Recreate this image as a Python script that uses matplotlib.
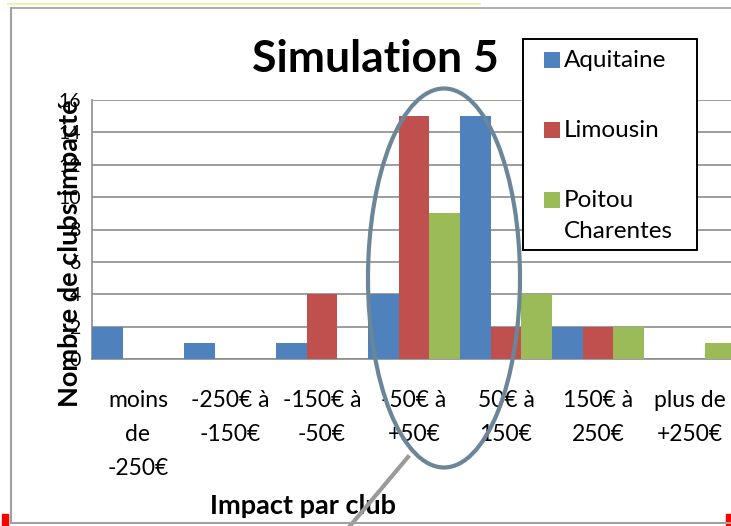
import numpy as np
import matplotlib
matplotlib.use("Agg")
import matplotlib.pyplot as plt
from matplotlib.patches import Ellipse, Rectangle
from matplotlib.lines import Line2D

plt.rcParams['font.family'] = ['Lato', 'DejaVu Sans']

categories = ["moins\nde\n-250€", "-250€ à\n-150€", "-150€ à\n-50€", "-50€ à\n+50€",
              "50€ à\n150€", "150€ à\n250€", "plus de\n+250€"]
series = ["Aquitaine", "Limousin", "Poitou\nCharentes"]
aquitaine = [2, 1, 1, 4, 15, 2, 0]
limousin = [0, 0, 4, 15, 2, 2, 0]
poitou = [0, 0, 0, 9, 4, 2, 1]
colors = ['#4F81BD', '#C0504D', '#9BBB59']

W, H = 731, 526
fig = plt.figure(figsize=(W / 100, H / 100), dpi=100)
fig.patch.set_facecolor('white')

# plot area in pixels: x 92..736, y 100..359
ax = fig.add_axes([92 / W, 1 - 359 / H, 644 / W, 259 / H])
x = np.arange(len(categories))
bw = 1 / 3
for i, (vals, c) in enumerate(zip([aquitaine, limousin, poitou], colors)):
    ax.bar(x + (i - 1) * bw, vals, width=bw, color=c, zorder=3)

ax.set_xlim(-0.5, 6.5)
ax.set_ylim(0, 16)
ax.set_yticks(np.arange(0, 17, 2))
ax.yaxis.grid(True, color='#8c8c8c', linewidth=1.2, zorder=0)
ax.set_xticks(x)
ax.set_xticklabels(categories, fontsize=16.5, linespacing=1.78)
ax.tick_params(axis='x', length=0, pad=22)
ax.tick_params(axis='y', length=0, pad=8, labelsize=14)
for s in ['top', 'right']:
    ax.spines[s].set_visible(False)
for s in ['left', 'bottom']:
    ax.spines[s].set_color('#8c8c8c')
    ax.spines[s].set_linewidth(1.2)

ax.set_ylabel("Nombre de clubs impacté", fontsize=19.5, fontweight='bold')
ax.yaxis.label.set_va('center')
ax.yaxis.set_label_coords((70 - 92) / 644, (359 - 253) / 259)
fig.text(303 / W, 1 - 506 / H, "Impact par club", fontsize=19.5, fontweight='bold',
         ha='center', va='center')
fig.text(375 / W, 1 - 59 / H, "Simulation 5", fontsize=32, fontweight='bold',
         ha='center', va='center')

# overlay decorations in pixel coordinates
ov = fig.add_axes([0, 0, 1, 1], zorder=10)
ov.set_xlim(0, W)
ov.set_ylim(H, 0)
ov.axis('off')
ov.patch.set_alpha(0)

# legend box, drawn by hand so the wrapped label keeps its swatch on the first line
ov.add_patch(Rectangle((523, 39), 174, 211, facecolor='white', edgecolor='black',
                       linewidth=1.4, zorder=4))
for i, (name, c) in enumerate(zip(series, colors)):
    yc = 60 + i * 70
    ov.add_patch(Rectangle((544, yc - 8), 16, 16, facecolor=c, edgecolor='none', zorder=5))
    ov.text(564, yc - 10, name, fontsize=17.5, va='top', ha='left', linespacing=1.6,
            zorder=6)

ov.add_patch(Ellipse((444, 278), 152, 379, fill=False, edgecolor='#6b8699', linewidth=3))
ov.add_line(Line2D([408, 350], [457, 526], color='#9a9a9a', linewidth=3))
ov.add_line(Line2D([11, 11], [8, 523], color='#a0a0a0', linewidth=1.5))
ov.add_line(Line2D([11, 731], [523, 523], color='#a0a0a0', linewidth=1.5))
ov.add_line(Line2D([11, 731], [8, 8], color='#a0a0a0', linewidth=1.2))
ov.add_line(Line2D([8, 480], [4, 4], color='#f3efb0', linewidth=1.5))
ov.add_patch(Rectangle((2, 514), 6, 12, color='red'))
ov.add_patch(Rectangle((726, 514), 5, 12, color='red'))

fig.savefig("out.png", dpi=100)
